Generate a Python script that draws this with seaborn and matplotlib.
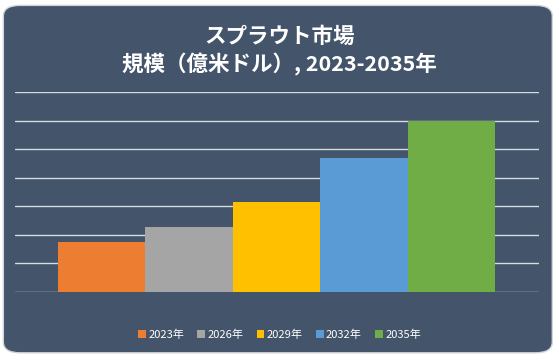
import pandas as pd
import numpy as np
import matplotlib.pyplot as plt
import seaborn as sns
from matplotlib.patches import FancyBboxPatch, Patch

# Chart data (units: 億米ドル)
years = ['2023年', '2026年', '2029年', '2032年', '2035年']
market_size = [1.75, 2.27, 3.15, 4.69, 6.0]
bar_colors = ['#ED7D31', '#A5A5A5', '#FFC000', '#5B9BD5', '#70AD47']

title_text = 'スプラウト市場\n規模（億米ドル）, 2023-2035年'
bg_color = '#44546A'

sns.set_style('white')
plt.rcParams['font.family'] = ['Noto Sans CJK JP', 'DejaVu Sans']

df = pd.DataFrame({'year': years, 'size': market_size})

fig = plt.figure(figsize=(5.59, 3.60), dpi=100)
fig.patch.set_facecolor('white')

# Rounded dark card behind the chart
card = FancyBboxPatch((0.006, 0.02), 0.982, 0.965,
                      boxstyle='round,pad=0,rounding_size=0.03',
                      transform=fig.transFigure, facecolor=bg_color,
                      edgecolor='#D0D5DC', linewidth=1.0, zorder=-5)
fig.patches.append(card)

ax = fig.add_axes([0.027, 0.189, 0.937, 0.555])
ax.set_facecolor('none')
ax.set_zorder(2)

sns.barplot(data=df, x='year', y='size', hue='year', palette=bar_colors,
            width=1.0, saturation=1.0, legend=False, ax=ax, zorder=3,
            edgecolor='none', linewidth=0)

ax.set_ylim(0, 7)
ax.set_xlim(-0.99, 5.0)
ax.set_yticks(np.arange(0, 8, 1))
ax.yaxis.grid(True, color='#D6DCE4', linewidth=1.0, zorder=1)
ax.set_axisbelow(True)
ax.set_xticks([])
ax.set_yticklabels([])
ax.tick_params(left=False, bottom=False)
ax.set_xlabel('')
ax.set_ylabel('')
for s in ax.spines.values():
    s.set_visible(False)

fig.text(0.5, 0.858, title_text, ha='center', va='center', color='white',
         fontsize=15.5, fontweight='bold', linespacing=1.3)

handles = [Patch(facecolor=c, edgecolor='none') for c in bar_colors]
fig.legend(handles, years, loc='center', bbox_to_anchor=(0.5, 0.07),
           ncol=5, frameon=False, fontsize=8, labelcolor='white',
           handlelength=0.7, handleheight=0.7, handletextpad=0.2,
           columnspacing=1.2)

fig.savefig('out.png', dpi=100)
